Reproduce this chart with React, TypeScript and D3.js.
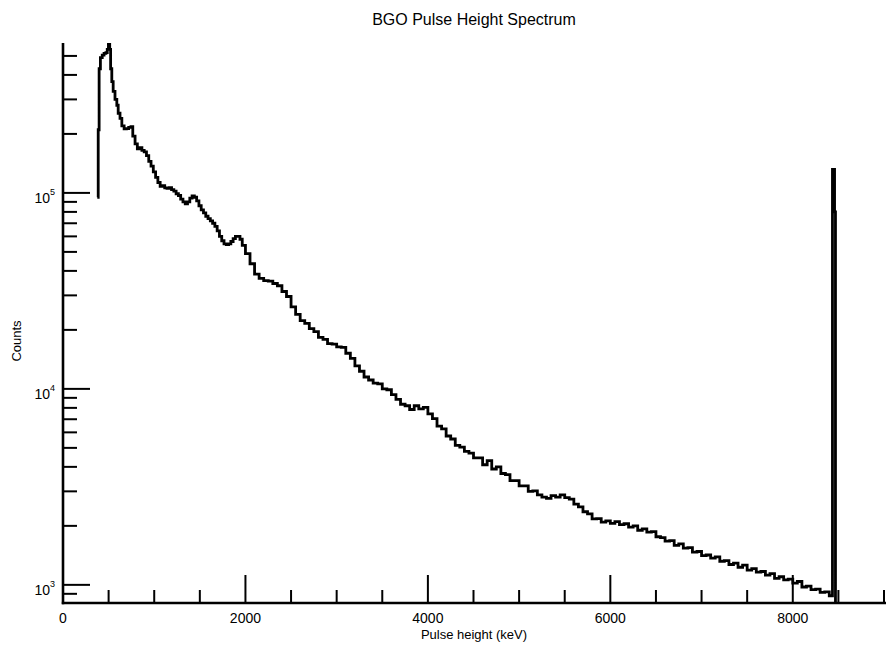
import { useEffect, useRef } from "react";
import * as d3 from "d3";

// [pulse height keV, counts], per region
const photopeakRegion: [number, number][] = [
  [376, 95000], [386, 210000], [396, 430000], [410, 490000], [430, 505000],
  [450, 515000], [470, 520000], [485, 540000], [498, 583000], [512, 540000],
  [522, 430000], [535, 370000], [550, 330000], [570, 300000], [590, 280000],
  [605, 255000], [625, 240000], [645, 220000], [670, 212000], [695, 213000],
  [720, 216000], [745, 218000], [765, 195000], [790, 178000], [815, 168000],
  [840, 170000], [865, 165000], [890, 162000], [915, 155000], [940, 145000],
  [965, 137000], [990, 128000], [1015, 120000], [1040, 113000], [1065, 108000],
  [1090, 109000], [1115, 106000], [1140, 105500], [1165, 106500], [1190, 104000],
  [1215, 102000], [1240, 99000], [1265, 97000], [1290, 93000], [1315, 90000],
  [1340, 88000], [1365, 90000], [1390, 94000], [1415, 96500], [1440, 95000],
  [1465, 91000], [1490, 86000], [1515, 82000], [1540, 79000], [1565, 76000],
  [1590, 74000], [1615, 72000], [1640, 70000], [1665, 67500], [1690, 64000],
  [1715, 60000], [1740, 57000], [1765, 55000], [1790, 54500], [1815, 55000],
  [1840, 56500], [1865, 58500], [1890, 60000], [1915, 60000], [1940, 58000],
  [1965, 54000],
];

const continuumRegion: [number, number][] = [
  [2000, 49000], [2050, 43500], [2100, 38500], [2150, 36600], [2200, 35700],
  [2250, 35500], [2300, 34500], [2350, 33600], [2400, 31400], [2450, 29600],
  [2500, 26200], [2550, 24000], [2600, 22300], [2650, 21600], [2700, 20300],
  [2750, 19600], [2800, 18300], [2850, 17900], [2900, 17000], [2950, 16900],
  [3000, 16400], [3050, 16300], [3100, 15200], [3150, 14300], [3200, 13100],
  [3250, 12300], [3300, 11500], [3350, 11100], [3400, 10700], [3450, 10600],
  [3500, 10000], [3550, 9900], [3600, 9350], [3650, 8850], [3700, 8350],
  [3750, 8200], [3800, 7850], [3850, 8200], [3900, 7900], [3950, 8050],
  [4000, 7450], [4050, 7050], [4100, 6450], [4150, 6250], [4200, 5750],
  [4250, 5550], [4300, 5150], [4350, 5050], [4400, 4800], [4450, 4700],
  [4500, 4450], [4550, 4450], [4600, 4100], [4650, 4300], [4700, 3900],
  [4750, 4000], [4800, 3700], [4850, 3650], [4900, 3400], [4950, 3400],
  [5000, 3200], [5050, 3200], [5100, 3000], [5150, 3020], [5200, 2880],
  [5250, 2800], [5300, 2760], [5350, 2850], [5400, 2800], [5450, 2880],
  [5500, 2790], [5550, 2740], [5600, 2580], [5650, 2500], [5700, 2360],
  [5750, 2300], [5800, 2170], [5850, 2180], [5900, 2090], [5950, 2120],
  [6000, 2060], [6050, 2100], [6100, 2030], [6150, 2050], [6200, 1970],
  [6250, 2000], [6300, 1900], [6350, 1930], [6400, 1860], [6450, 1870],
  [6500, 1760], [6550, 1740], [6600, 1670], [6650, 1680], [6700, 1590],
  [6750, 1620], [6800, 1540], [6850, 1550], [6900, 1470], [6950, 1480],
  [7000, 1410], [7050, 1420], [7100, 1370], [7150, 1390], [7200, 1320],
  [7250, 1330], [7300, 1270], [7350, 1290], [7400, 1230], [7450, 1260],
  [7500, 1190], [7550, 1210], [7600, 1160], [7650, 1170], [7700, 1120],
  [7750, 1140], [7800, 1080], [7850, 1100], [7900, 1060], [7950, 1070],
  [8000, 1020], [8050, 1040], [8100, 975], [8150, 985], [8200, 945],
  [8250, 950], [8300, 915], [8350, 920], [8400, 880],
];

// pulser / overflow peak at the end of the range
const endpointSpike: [number, number][] = [
  [8435, 132000], [8458, 80000], [8468, 700], [8480, 700],
];

const xMajorTicks = [0, 2000, 4000, 6000, 8000];
const xMinorTicks = [500, 1000, 1500, 2500, 3000, 3500, 4500, 5000, 5500, 6500, 7000, 7500, 8500, 9000];
const yDecades = [2, 3, 4, 5];

const title = "BGO Pulse Height Spectrum";
const xTitle = "Pulse height (keV)";
const yTitle = "Counts";

const W = 886;
const H = 648;
const FONT = "'Liberation Sans', Arial, Helvetica, sans-serif";

const App = () => {
  const svgRef = useRef<SVGSVGElement | null>(null);

  useEffect(() => {
    document.body.style.margin = "0";
    if (!svgRef.current) return;
    const svg = d3.select(svgRef.current);
    svg.selectAll("*").remove();

    const left = 63;
    const bottom = 603;
    const top = 43;

    const x = d3.scaleLinear().domain([0, 9000]).range([left, 884]);
    const y = d3.scaleLog().domain([808, 582000]).range([bottom, top]);
    const [yMin, yMax] = y.domain();
    const inY = (v: number) => v >= yMin && v <= yMax;

    svg
      .append("defs")
      .append("clipPath")
      .attr("id", "plot-clip")
      .append("rect")
      .attr("x", left)
      .attr("y", top)
      .attr("width", W - left)
      .attr("height", bottom - top);

    // data as a step histogram
    const data = [...photopeakRegion, ...continuumRegion, ...endpointSpike];
    const line = d3
      .line<[number, number]>()
      .x((d) => x(d[0]))
      .y((d) => y(d[1]))
      .curve(d3.curveStepAfter);

    svg
      .append("path")
      .datum(data)
      .attr("clip-path", "url(#plot-clip)")
      .attr("fill", "none")
      .attr("stroke", "#000")
      .attr("stroke-width", 2.8)
      .attr("stroke-linejoin", "miter")
      .attr("d", line);

    const axes = svg.append("g").attr("stroke", "#000");

    // x ticks (pointing into the plot)
    xMinorTicks.forEach((t) => {
      axes.append("line").attr("x1", x(t)).attr("x2", x(t))
        .attr("y1", bottom).attr("y2", bottom - 13).attr("stroke-width", 2);
    });
    xMajorTicks.forEach((t) => {
      axes.append("line").attr("x1", x(t)).attr("x2", x(t))
        .attr("y1", bottom).attr("y2", bottom - 28).attr("stroke-width", 2);
    });

    // y ticks, log decades with minor 2..9, only inside the domain
    yDecades.forEach((p) => {
      const base = Math.pow(10, p);
      if (inY(base)) {
        axes.append("line").attr("x1", left).attr("x2", left + 27)
          .attr("y1", y(base)).attr("y2", y(base)).attr("stroke-width", 2);
      }
      for (let m = 2; m <= 9; m++) {
        if (!inY(m * base)) continue;
        axes.append("line").attr("x1", left).attr("x2", left + 14)
          .attr("y1", y(m * base)).attr("y2", y(m * base)).attr("stroke-width", 2);
      }
    });

    axes.append("line").attr("x1", left).attr("x2", left)
      .attr("y1", top).attr("y2", bottom + 1.2).attr("stroke-width", 2.6);
    axes.append("line").attr("x1", left - 1.2).attr("x2", W)
      .attr("y1", bottom).attr("y2", bottom).attr("stroke-width", 2.6);

    const labels = svg.append("g").attr("font-family", FONT).attr("fill", "#000");

    xMajorTicks.forEach((t) => {
      labels.append("text").attr("x", x(t)).attr("y", 623)
        .attr("text-anchor", "middle").attr("font-size", 14).text(d3.format("d")(t));
    });

    yDecades.filter((p) => inY(Math.pow(10, p))).forEach((p) => {
      const txt = labels.append("text").attr("x", 55).attr("y", y(Math.pow(10, p)) + 10)
        .attr("text-anchor", "end").attr("font-size", 14);
      txt.append("tspan").text("10");
      txt.append("tspan").attr("dy", -8).attr("font-size", 9).text(String(p));
    });

    labels.append("text").attr("x", 474).attr("y", 25)
      .attr("text-anchor", "middle").attr("font-size", 16).text(title);
    labels.append("text").attr("x", 474).attr("y", 639)
      .attr("text-anchor", "middle").attr("font-size", 13).text(xTitle);
    labels.append("text")
      .attr("transform", `translate(21,341) rotate(-90)`)
      .attr("text-anchor", "middle").attr("font-size", 13).text(yTitle);
  }, []);

  return <svg ref={svgRef} width={W} height={H} style={{ display: "block" }} />;
};

export default App;
